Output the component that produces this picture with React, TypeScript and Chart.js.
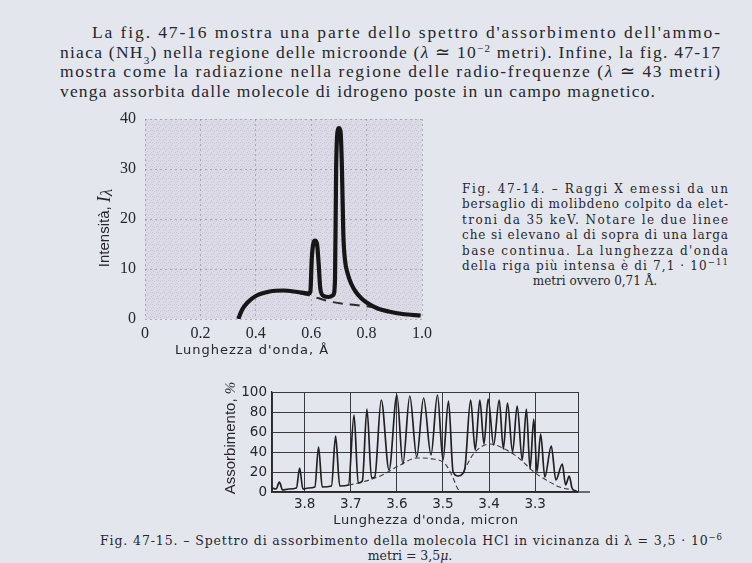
import React, { useEffect, useRef } from "react";
import { Chart, registerables } from "chart.js";
Chart.register(...registerables);

// ---------- Fig. 47-14 : X-ray spectrum of molybdenum ----------
const xrayWavelength = [0.337, 0.35, 0.37, 0.4, 0.45, 0.5, 0.55, 0.59, 0.597, 0.602, 0.608, 0.614, 0.621, 0.627, 0.633, 0.645, 0.663, 0.68, 0.686, 0.69, 0.695, 0.7, 0.706, 0.711, 0.716, 0.722, 0.732, 0.745, 0.76, 0.78, 0.8, 0.84, 0.88, 0.93, 0.995];
const xrayIntensity = [0, 1.8, 3.3, 4.6, 5.5, 5.7, 5.4, 5.1, 5.5, 12, 15.2, 15.7, 15, 11, 6, 4.6, 4.4, 4.8, 8, 30, 37.5, 38.2, 37.5, 30, 17, 11.8, 9.0, 7.0, 5.5, 4.2, 3.3, 2.1, 1.5, 1.0, 0.7];
const xrayBaseWavelength = [0.56, 0.6, 0.66, 0.72, 0.76, 0.82];
const xrayBaseIntensity = [5.2, 4.6, 3.6, 3.0, 2.8, 2.4];
const xrayXTicks = [0, 0.2, 0.4, 0.6, 0.8, 1.0];
const xrayYTicks = [0, 10, 20, 30, 40];

// ---------- Fig. 47-15 : HCl absorption spectrum ----------
const hclWavelength = [3.871, 3.862, 3.855, 3.848, 3.835, 3.818, 3.811, 3.804, 3.792, 3.778, 3.77, 3.762, 3.742, 3.733, 3.724, 3.705, 3.693, 3.684, 3.675, 3.665, 3.655, 3.648, 3.634, 3.617, 3.6, 3.587, 3.572, 3.557, 3.542, 3.526, 3.512, 3.5, 3.488, 3.478, 3.467, 3.458, 3.452, 3.44, 3.43, 3.42, 3.411, 3.402, 3.39, 3.378, 3.369, 3.36, 3.349, 3.339, 3.328, 3.319, 3.311, 3.303, 3.296, 3.288, 3.279, 3.265, 3.255, 3.241, 3.234, 3.226, 3.22, 3.212, 3.207];
const hclAbsorption = [4, 3, 10, 2, 3, 4, 24, 3, 4, 5, 45, 5, 6, 56, 6, 7, 77, 9, 11, 83, 14, 15, 92, 22, 97, 28, 96, 35, 94, 37, 97, 32, 91, 20, 16, 18, 25, 92, 42, 92, 48, 93, 47, 92, 43, 89, 40, 86, 32, 83, 23, 73, 20, 58, 15, 46, 12, 28, 7, 16, 4, 1, 0];
const hclEnvLeftWavelength = [3.705, 3.693, 3.636, 3.593, 3.557, 3.521, 3.495, 3.478, 3.47, 3.463];
const hclEnvLeftAbsorption = [7, 8, 16, 27, 34, 33, 28, 14, 5, 0];
const hclEnvRightWavelength = [3.456, 3.434, 3.398, 3.362, 3.333, 3.305, 3.276, 3.247, 3.218];
const hclEnvRightAbsorption = [20, 38, 48, 42, 33, 21, 12, 5, 2];
const hclXTicks = [3.8, 3.7, 3.6, 3.5, 3.4, 3.3];
const hclYTicks = [0, 20, 40, 60, 80, 100];
const hclRange = [3.207, 3.871];

const BG = "#e4e6ee";
const INK = "#26262b";

const pts = (xs: number[], ys: number[]) => xs.map((x, i) => ({ x, y: ys[i] }));

const titlePlugin = {
  id: "customTitles",
  afterDraw(chart: any, _a: any, opts: any) {
    const ctx = chart.ctx as CanvasRenderingContext2D;
    (opts.items || []).forEach((item: any) => {
      ctx.save();
      ctx.translate(item.x, item.y);
      if (item.rotate) ctx.rotate(-Math.PI / 2);
      ctx.fillStyle = INK;
      ctx.textBaseline = "middle";
      ctx.textAlign = "left";
      (ctx as any).letterSpacing = item.spacing || "0px";
      let total = 0;
      item.parts.forEach((p: any) => {
        ctx.font = p.font;
        total += ctx.measureText(p.text).width;
      });
      let x = -total / 2;
      item.parts.forEach((p: any) => {
        ctx.font = p.font;
        ctx.fillText(p.text, x, p.dy || 0);
        x += ctx.measureText(p.text).width;
      });
      ctx.restore();
    });
  },
};

const stipplePlugin = {
  id: "stipple",
  beforeDraw(chart: any) {
    const { ctx, chartArea } = chart;
    const p = document.createElement("canvas");
    p.width = 6;
    p.height = 6;
    const g = p.getContext("2d")!;
    g.fillStyle = "#dcdbe5";
    g.fillRect(0, 0, 6, 6);
    g.fillStyle = "#cac4d8";
    [[0, 0], [3, 3], [1, 4], [4, 1], [2, 0]].forEach(([x, y]) => g.fillRect(x, y, 1, 1));
    const pat = ctx.createPattern(p, "repeat");
    ctx.save();
    ctx.fillStyle = pat;
    ctx.fillRect(chartArea.left, chartArea.top, chartArea.right - chartArea.left, chartArea.bottom - chartArea.top);
    ctx.restore();
  },
};

const baselinePlugin = {
  id: "baselineExt",
  afterDraw(chart: any) {
    const { ctx, chartArea, scales } = chart;
    const y = scales.y.getPixelForValue(0);
    ctx.save();
    ctx.strokeStyle = "#2a2a2a";
    ctx.lineWidth = 1.3;
    ctx.beginPath();
    ctx.moveTo(chartArea.right, y);
    ctx.lineTo(chartArea.right + 12, y);
    ctx.stroke();
    ctx.restore();
  },
};

function xrayConfig(): any {
  const serif = { family: "'Liberation Serif', serif", size: 16 };
  const grid = { color: "rgba(120,120,135,0.5)", lineWidth: 1, drawTicks: false };
  const border = { display: false, dash: [2, 3] };
  return {
    type: "line",
    data: {
      datasets: [
        {
          data: pts(xrayWavelength, xrayIntensity),
          borderColor: "#161616",
          borderWidth: 4.2,
          pointRadius: 0,
          cubicInterpolationMode: "monotone",
          fill: false,
        },
        {
          data: pts(xrayBaseWavelength, xrayBaseIntensity),
          borderColor: "#2a2a2a",
          borderWidth: 2,
          borderDash: [10, 7],
          pointRadius: 0,
          cubicInterpolationMode: "monotone",
          fill: false,
        },
      ],
    },
    options: {
      animation: false,
      responsive: false,
      layout: { padding: { left: 0, right: 18, top: 19, bottom: 0 } },
      plugins: {
        legend: { display: false },
        tooltip: { enabled: false },
        customTitles: {
          items: [
            {
              x: 15, y: 128, rotate: true,
              parts: [
                { text: "Intensità, ", font: "15px 'Liberation Sans'" },
                { text: "I", font: "italic 18px 'Liberation Serif'" },
                { text: "λ", font: "italic 17px 'Liberation Serif'", dy: 3 },
              ],
            },
            { x: 162, y: 251, spacing: "1px", parts: [{ text: "Lunghezza d'onda, Å", font: "13px 'DejaVu Sans'" }] },
          ],
        },
      },
      scales: {
        x: {
          type: "linear",
          min: 0,
          max: 1,
          afterFit: (s: any) => { s.height = 51; },
          afterBuildTicks: (s: any) => { s.ticks = xrayXTicks.map((v) => ({ value: v })); },
          ticks: {
            font: serif,
            color: INK,
            padding: 5,
            autoSkip: false,
            maxRotation: 0,
            callback: (v: any) => (Number(v) === 0 ? "0" : Number(v).toFixed(1)),
          },
          grid,
          border,
        },
        y: {
          type: "linear",
          min: 0,
          max: 40,
          afterFit: (s: any) => { s.width = 55; },
          afterBuildTicks: (s: any) => { s.ticks = xrayYTicks.map((v) => ({ value: v })); },
          ticks: { font: serif, color: INK, padding: 9, autoSkip: false },
          grid,
          border,
        },
      },
    },
    plugins: [stipplePlugin, titlePlugin],
  };
}

function hclConfig(): any {
  const sans = { family: "'DejaVu Sans', sans-serif", size: 13.5 };
  const grid = { color: "#3a3a3e", lineWidth: 1, drawTicks: false };
  const border = { display: true, color: "#2a2a2a", width: 1.3 };
  return {
    type: "line",
    data: {
      datasets: [
        {
          data: pts(hclWavelength, hclAbsorption),
          borderColor: "#202023",
          borderWidth: 1.7,
          pointRadius: 0,
          cubicInterpolationMode: "monotone",
          fill: false,
        },
        {
          data: pts(hclEnvLeftWavelength, hclEnvLeftAbsorption),
          borderColor: "#3a3a3e",
          borderWidth: 1.1,
          borderDash: [5, 3],
          pointRadius: 0,
          cubicInterpolationMode: "monotone",
          fill: false,
        },
        {
          data: pts(hclEnvRightWavelength, hclEnvRightAbsorption),
          borderColor: "#3a3a3e",
          borderWidth: 1.1,
          borderDash: [5, 3],
          pointRadius: 0,
          cubicInterpolationMode: "monotone",
          fill: false,
        },
      ],
    },
    options: {
      animation: false,
      responsive: false,
      layout: { padding: { left: 0, right: 22, top: 17, bottom: 0 } },
      plugins: {
        legend: { display: false },
        tooltip: { enabled: false },
        customTitles: {
          items: [
            {
              x: 31, y: 63, rotate: true,
              parts: [
                { text: "Assorbimento, ", font: "15px 'Liberation Sans'" },
                { text: "%", font: "italic 15px 'Liberation Serif'" },
              ],
            },
            { x: 226, y: 146, spacing: "0.6px", parts: [{ text: "Lunghezza d'onda, micron", font: "13px 'DejaVu Sans'" }] },
          ],
        },
      },
      scales: {
        x: {
          type: "linear",
          reverse: true,
          min: hclRange[0],
          max: hclRange[1],
          afterFit: (s: any) => { s.height = 43; },
          afterBuildTicks: (s: any) => {
            s.ticks = [hclRange[0], ...hclXTicks, hclRange[1]].map((v) => ({ value: v }));
          },
          ticks: {
            font: sans,
            color: INK,
            padding: 4,
            autoSkip: false,
            maxRotation: 0,
            callback: (v: any) => (hclXTicks.includes(Number(v)) ? Number(v).toFixed(1) : ""),
          },
          grid,
          border,
        },
        y: {
          type: "linear",
          min: 0,
          max: 100,
          afterFit: (s: any) => { s.width = 72; },
          afterBuildTicks: (s: any) => { s.ticks = hclYTicks.map((v) => ({ value: v })); },
          ticks: { font: sans, color: INK, padding: 5, autoSkip: false },
          grid,
          border,
        },
      },
    },
    plugins: [titlePlugin, baselinePlugin],
  };
}

const serifTop = "'Liberation Serif', serif";
const serifCap = "'DejaVu Serif', serif";

export default function App() {
  const c1 = useRef<HTMLCanvasElement>(null);
  const c2 = useRef<HTMLCanvasElement>(null);

  useEffect(() => {
    const ch1 = new Chart(c1.current!, xrayConfig());
    const ch2 = new Chart(c2.current!, hclConfig());
    return () => {
      ch1.destroy();
      ch2.destroy();
    };
  }, []);

  const capLines = [
    "Fig. 47-14. – Raggi X emessi da un",
    "bersaglio di molibdeno colpito da elet-",
    "troni da 35 keV. Notare le due linee",
    "che si elevano al di sopra di una larga",
    "base continua. La lunghezza d'onda",
  ];

  return (
    <div style={{ position: "fixed", left: 0, top: 0, width: 752, height: 563, background: BG, overflow: "hidden" }}>
      <svg width={752} height={563} style={{ position: "absolute", left: 0, top: 0 }}>
        <g fill={INK} fontFamily={serifTop} fontSize={17.5}>
          <text x={92} y={38} textLength={628} lengthAdjust="spacing">
            La fig. 47-16 mostra una parte dello spettro d'assorbimento dell'ammo-
          </text>
          <text x={60} y={57.5} textLength={660} lengthAdjust="spacing">
            niaca (NH<tspan baselineShift="sub" fontSize={11}>3</tspan>) nella regione delle microonde (
            <tspan fontStyle="italic">λ</tspan> ≃ 10<tspan baselineShift="super" fontSize={11}>−2</tspan> metri). Infine, la fig. 47-17
          </text>
          <text x={60} y={77} textLength={660} lengthAdjust="spacing">
            mostra come la radiazione nella regione delle radio-frequenze (<tspan fontStyle="italic">λ</tspan> ≃ 43 metri)
          </text>
          <text x={60} y={96.5} textLength={595} lengthAdjust="spacing">
            venga assorbita dalle molecole di idrogeno poste in un campo magnetico.
          </text>
        </g>
        <g fill={INK} fontFamily={serifCap} fontSize={12}>
          {capLines.map((t, i) => (
            <text key={i} x={462} y={193 + i * 15.4} textLength={266} lengthAdjust="spacing">
              {t}
            </text>
          ))}
          <text x={462} y={193 + 5 * 15.4} textLength={266} lengthAdjust="spacing">
            della riga più intensa è di 7,1 · 10<tspan baselineShift="super" fontSize={8.5}>−11</tspan>
          </text>
          <text x={595} y={193 + 6 * 15.4} textAnchor="middle">
            metri ovvero 0,71 Å.
          </text>
        </g>
        <g fill={INK} fontFamily={serifCap} fontSize={12.5}>
          <text x={100} y={545} textLength={622} lengthAdjust="spacing">
            Fig. 47-15. – Spettro di assorbimento della molecola HCl in vicinanza di λ = 3,5 · 10
            <tspan baselineShift="super" fontSize={8.5}>−6</tspan>
          </text>
          <text x={410} y={560} textAnchor="middle">
            metri = 3,5<tspan fontStyle="italic">μ</tspan>.
          </text>
        </g>
      </svg>
      <canvas ref={c1} width={350} height={270} style={{ position: "absolute", left: 90, top: 100 }} />
      <canvas ref={c2} width={400} height={160} style={{ position: "absolute", left: 200, top: 375 }} />
    </div>
  );
}
